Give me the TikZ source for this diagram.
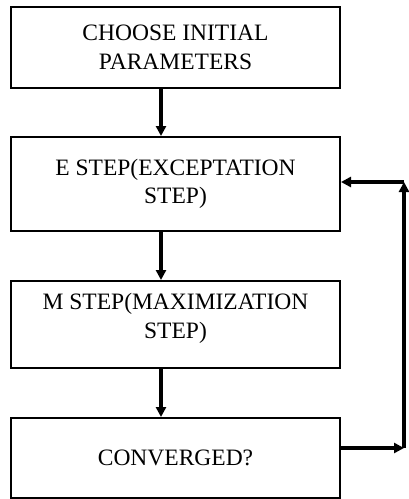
\documentclass[tikz,border=0pt]{standalone}
\usepackage{fontspec}
\setmainfont{Liberation Serif}
\usetikzlibrary{arrows.meta}
\begin{document}
\begin{tikzpicture}[x=1pt,y=-1pt,
  box/.style={draw=black,line width=2pt,rectangle,minimum width=329pt,inner sep=0pt},
  txt/.style={align=center,font=\fontsize{23.5}{28.5}\selectfont,inner sep=0pt},
  arr/.style={line width=3.6pt,-{Triangle[length=10pt,width=10pt]}}]
\useasboundingbox (0,0) rectangle (409,499);
\node[box,minimum height=81pt] (b1) at (175.5,47.5) {};
\node[txt] (t1) at (b1.center) {CHOOSE INITIAL\\PARAMETERS};
\node[box,minimum height=94pt] (b2) at (175.5,184) {};
\node[txt] (t2) at (b2.center) {E STEP(EXCEPTATION\\STEP)};
\node[box,minimum height=87pt] (b3) at (175.5,324.5) {};
\node[txt] (t3) at ([yshift=6pt]b3.center) {M STEP(MAXIMIZATION\\STEP)};
\node[box,minimum height=80pt] (b4) at (175.5,458) {};
\node[txt] (t4) at (b4.center) {CONVERGED?};
\coordinate (ax) at (161,0);
\coordinate (c1) at (404,448);
\coordinate (c2) at (404,182);
\draw[arr] (b1.south -| ax) -- (b2.north -| ax);
\draw[arr] (b2.south -| ax) -- (b3.north -| ax);
\draw[arr] (b3.south -| ax) -- (b4.north -| ax);
\draw[arr] (b4.east |- c1) -- (c1);
\draw[arr] (c1) -- (c2);
\draw[arr] (c2) -- (b2.east |- c2);
\end{tikzpicture}
\end{document}
